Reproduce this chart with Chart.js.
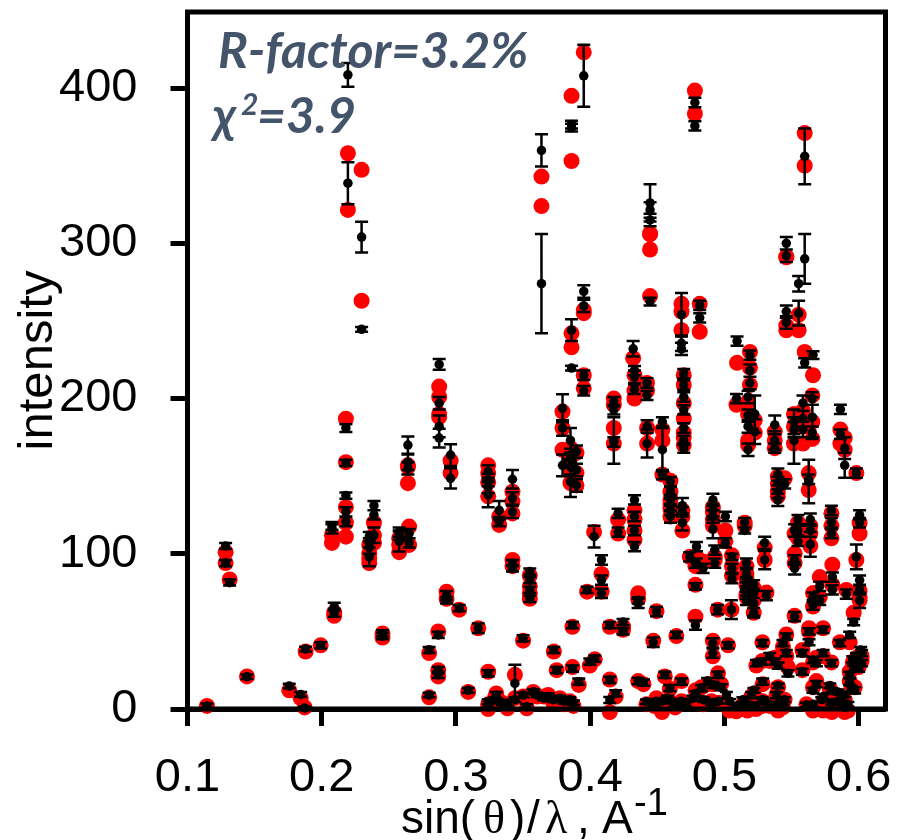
<!DOCTYPE html>
<html>
<head>
<meta charset="utf-8">
<title>R-factor plot</title>
<script src="https://cdn.jsdelivr.net/npm/chart.js@4/dist/chart.umd.min.js"></script>
<style>
html, body { margin: 0; padding: 0; background: #fff; }
canvas { display: block; }
</style>
</head>
<body>
<canvas id="fitChart" width="899" height="840"></canvas>
<script>
// Reflections, same order in all four arrays
const sinThetaOverLambda = [
  .1145,.1284,.1284,.1314,.1443,.1758,.1843,.1873,.188,.1992,
  .2093,.2093,.2076,.2076,.218,.218,.218,.218,.218,
  .2195,.2195,.2297,.2297,.2354,.2354,.2354,.2354,.2389,.2389,.2389,
  .2577,.2577,.2577,.2651,.2651,.2642,.2642,.2642,.2875,.2875,.2875,.2875,
  .296,.296,.324,.324,.324,.324,.3322,.3322,.3421,.3421,.3421,.3421,.3421,
  .355,.355,.355,.355,.2453,.2453,.28,.28,.2868,.2868,.2868,.293,.293,.3024,.3166,.3091,
  .324,.324,.324,.33,.3384,.3439,.35,.3528,.3575,.35,.329,.3345,.344,
  .3637,.3637,.3861,.3861,.3861,.3861,.3952,.3952,.3952,.3952,.3952,
  .4446,.4446,.4446,.4446,.478,.478,.5598,.5598,.5553,.5553,.5461,.5461,.5461,.5461,
  .468,.468,.468,.4816,.4816,.5094,.519,.432,.566,.5598,
  .5655,.5655,.5655,.5585,.5585,.5585,.5518,.5518,.5518,.5864,.5896,.5896,.5864,.5983,.5375,.5375,.5375,
  .519,.519,.509,.5176,.5176,.5176,.5176,.5226,.5226,.5628,.5628,.5398,.5398,.5398,.5398,.5449,
  .3794,.3794,.3794,.3853,.3853,.3853,.3853,.3898,.3898,.3898,.4176,.4176,.4176,.4176,.4424,.4424,.4538,.4538,.4538,
  .4697,.4697,.4697,.4697,.4697,.4697,.4697,.4598,.4598,.4598,.4598,.4687,.4687,
  .433,.433,.433,.433,.4208,.4208,.4029,.4084,.4084,.4084,.3977,
  .3868,.3729,.375,.3868,.3915,.3997,.4034,.358,.3687,.3774,.3848,.4146,.419,.4146,.4146,.4245,.4245,
  .4494,.4357,.4357,.447,.4642,.4784,.4784,.4784,.4556,.4357,.4397,.468,
  .4419,.4494,.4593,.4605,.468,.4766,.4829,.4903,.4915,.4952,.4914,.4914,.5027,
  .5015,.509,.5138,.5201,.5285,.5285,.5388,.5436,
  .4914,.4914,.4914,.4914,.5007,.5007,.5151,.5151,
  .4742,.4792,.4792,.4841,.4928,.4928,.5056,.5056,.5056,.5164,.5164,.5164,.5164,.5218,.5218,.5313,.53,.53,
  .5523,.5523,.5523,.5548,.5548,.5548,.564,.564,.564,.5797,.5797,.5797,.6007,.6007,.5983,
  .6007,.6007,.6007,.5804,.5804,.571,.571,.566,.566,.5908,.5523,
  .5283,.5283,.5375,.5461,.5461,.54,.5473,.5581,.563,.5581,.5735,.5685,.5797,.586,.5933,.5963,.6022,.6022,.5963,.5933,.5956,
  .5611,.5685,.5735,.5844,.5896,.5797,.5971,
  .433,.433,.433,.4423,.4423,
  .5164,.5164,.5218,.5218,.4598,.4687,.4598,
  .5039,.5088,.5138,.5171,.522,.5236,.5285,.5336,.54,.54,.5448,
  .566,.566,.5725,.5785,.58,.5844,.5896,.5896,.592,
  .5933,.597,.5985,.6015,.6,.5945,
  .4477,.4535,.4575,.4633,.4715,.4785,.4845,.4875,.4975,.4955,
  .3605,.3655,.3725,.3805,.3875,
  .5238,.5337,.5436,.566,.5735,.563,.495,.5052
];
const observed = [
  2,105,94,81.5,20.8,14.8,9.4,.6,38.6,41,
  66,62,118,116,181,158.5,137.5,127,120.7,
  408.5,338.7,304,244.6,111,107,104,98,131,125,112,
  114,108,112,113,107,170,159,155,222,197,182,174.5,
  163.6,148.6,153,147.5,143,138,128,120.7,148,135.7,127,94,90.6,
  88.5,83,76.7,71,48.7,47,38,9,47.7,25,22,70,73,65,52,12,
  23,4.7,1.5,9,3.8,16.5,9,1.5,11,45.5,6,4,6,
  359.8,274,376.5,374.5,244,219.6,407.9,269,259.7,215,205,
  326,321.5,315,262.5,390.7,375.6,356,290,274,255,300,292,256,249,
  254,235.6,232,260,252,237,228,232,228,223,
  188,200,178,197,187,180,185,180,173,193,168,157,177,152,183,173,168,
  218,210,200,201,189,182,167,190,178.7,146.5,148,151,145.6,140,134.7,145,
  193.7,181,157,173,163.6,156,146.5,165.8,154,144,198,192.7,173,172,182,171,185,167,151,
  216,208.7,201,192.7,181,173,168,146.5,140,131.4,124,131,120,
  134.7,124,115,104.6,126,114,111,96,83,74.5,76.7,
  54,38,25,26,17.6,30.5,32.5,11,8,7,6,18.7,10,5.8,54,56,50,
  62.7,68,70,43,47.7,54,79,94,22,18,17,17.6,
  4.7,5,13.4,5,5,7,13.4,4,15.5,22,42.5,36,41,
  9,2,3,9,17.6,5,9,4,
  134.7,128,124,116,124,107,120,115,
  98,104.6,94,90.6,102.4,94,98,90.6,84,94,87,78.6,70,74.5,68,73,107,96,
  115,96,90.6,122,115,108,122,115,106,128,120,113,125,120,98,
  83,76.7,70,85,76.7,79,70,72,67,74,59.5,
  42.5,30.5,30.5,46.6,36,28,23,24,43,36,51,29.5,29.5,42.5,47.7,56,36,29.5,26,17.6,32,
  2.6,16,8,11,3,12,12,
  218,214,206,210,202,
  82,74,80,62,135,127,128,
  5,1.5,6,3,12,2,6,3,15,3,6,
  12,3,6,15,4,5,9,1,3,
  22,30,34,38,26,13,
  3,5,7,3,3,10,6,18,14,5,
  9,7,6,5,4,
  29.5,34,42.5,31.5,36,50,64,64
];
const obsError = [
  1.5,2,2,2,1.5,1.5,1.5,1,1.5,2,
  2.5,2.5,2.5,3,2.5,2,2,3,3,
  7.6,13.5,9.9,1.5,3,3,4,6,3,3,5,
  3,6.5,3,3,3,5.5,5,4,3.5,4,7,6,
  7,6.5,4,4,4,8,6,3,6,4,4,2,2,
  2,2,2,2,2,2,2,1.5,2,2,2,2,3,2,3,1.5,
  2,1.5,1.5,2,1.5,12,1.5,1.5,1.5,2,1.5,1.5,1.5,
  10.4,32,2.5,2.5,7,1.5,20,4,4,3,3,
  12,5,4,2.5,3,3,18,16,5,8,4,4,4,4,
  14,5,4,3,3,3,3,5,2.5,3,
  13,4,4,5,5,5,8,5,15,3,7,8,3,3,6,6,3,
  4,4,3,4,4,4,4,12,8,14,3,4,4,4,4,3,
  9,5,7,8,4,5,10,4,4,4,3,3,15,3,4,9,3,14,3,
  3,3,3,3,3,3,3,3,3,4,4,5,5,
  3,3,3,3,3,3,7,3,3,3,2,
  2,2,2,2,2,2,2,1.5,2,1.5,1.5,2,2,2,2,2,2,
  3,3,2,3,2,3,2,3,2,2,2,2,
  1.5,1.5,2,1.5,1.5,1.5,2,1.5,2,2,3,3,2,
  2,1.5,1.5,2,2,1.5,2,1.5,
  4,4,4,6,3,3,3,2,
  3,3,3,3,3,3,2,3,3,3,3,3,3,3,8,3,4,6,
  4,3,4,3,3,3,4,4,8,3,3,3,3,3,8,
  3,3,5,3,3,3,3,3,3,3,3,
  2,2,2,2,2,2,2,2,2,2,2,2,2,2,2,2,2,2,2,2,2,
  1.5,2,1.5,1.5,1.5,1.5,2,
  3,4,3,3,3,
  3,3,3,3,3,3,3,
  1.5,1.5,1.5,1.5,1.5,1.5,1.5,1.5,1.5,1.5,1.5,
  1.5,1.5,1.5,1.5,1.5,1.5,1.5,1.5,1.5,
  2,2,2,2,2,2,
  1.5,1.5,1.5,1.5,1.5,1.5,1.5,2,2,1.5,
  1.5,1.5,1.5,1.5,1.5,
  2,2,2,2,2,2,3,6
];
const calculated = [
  2,101,94,83.5,21,12,7,1,37,41,
  62,60,112,107,187,159,130,120,111,
  358,321.5,347.3,263,105.7,100,97,94,120,112,107,
  110,105.7,101,117.5,105.7,157,156,145.5,207.7,201,188,190,
  160,152,157,152,146,137,124,118.6,140,133.6,126,96,92,
  86,79,74.5,71,48.7,46,36,7.5,50,25,21,75.6,71,64,52,11,
  24,3,0,10,.5,22,8,.5,11,44,7,4,7,
  343,324,395,353,242,233,423,255,257,215,206.6,
  306,296,306,266,398.4,383.4,371,350,254,244,291.4,291,247,244,
  261,244,256,261,243,223,230,226,215,230,
  202,185,174,192,182,171,190,182,171,180,174.6,167,171,152,178.7,168,173,
  220,208.7,196,198,173,190,170,186,178,152,141,149.7,145,137,140,148.6,
  191.6,181,167,168,162,154,145.6,165,152,144,200,196,181,171,181,171,180,173,151,
  215,208.7,197,187,178,175,170,147,140,132,124,124,115,
  128,122,115,109,122,113,114,87,75.6,76,75.6,
  53,37,25,27,15.5,28,32,10,9,7,5,19,8,-2,53,53,51,
  63,74.5,71,44,47,59.5,80,92,21,18,16,18,
  3,7,13,4,5,5,14,5,16,23,44,34,41,
  2,-1,1,8,16,2,9,1,
  130,127,122,118,115,108,120,118,
  98,98,94,95,98,96,99,92,86,92,87,84,72,74.5,70,75,104,96,
  113,100,94,120,113,110,118,113,105,126,118,110,120,113,96,
  76,72,70,93,80,85,72,74.7,66,76.7,60,
  43,31,33,48,34,32,27,25,50,38,52,33,30,43,43,62,34,31,27,18,30,
  3,18,-1,8,-1,10,14,
  215,205,200,210,205,
  80,74,78,62,135,128,129,
  -1,-1.5,3,-1,10,0,5,2,14,-1,6,
  14,-1,3,13,-2,1,6,-2,-1,
  24,28,33,35,27,15,
  2,-2,5,1,4,12,3,16,16,4,
  8,8,4,3,2,
  28,31,40,30,34,52,64,64
];
const xTickValues = [0.1, 0.2, 0.3, 0.4, 0.5, 0.6];
const yTickValues = [0, 100, 200, 300, 400];

if (observed.length !== sinThetaOverLambda.length || obsError.length !== observed.length || calculated.length !== observed.length) {
  throw new Error('lengths: ' + [sinThetaOverLambda.length, observed.length, obsError.length, calculated.length]);
}

const labelFont = '"Liberation Sans", Arial, sans-serif';

// error bars + closed frame go on top of the points
const errorBars = {
  id: 'errorBars',
  afterDatasetsDraw(chart) {
    const { ctx, scales: { x, y }, chartArea } = chart;
    ctx.save();
    ctx.strokeStyle = '#000';
    ctx.lineWidth = 2.5;
    ctx.beginPath();
    sinThetaOverLambda.forEach((s, i) => {
      const px = x.getPixelForValue(s);
      const top = y.getPixelForValue(observed[i] + obsError[i]);
      const bottom = y.getPixelForValue(observed[i] - obsError[i]);
      ctx.moveTo(px, top); ctx.lineTo(px, bottom);
      ctx.moveTo(px - 6.5, top); ctx.lineTo(px + 6.5, top);
      ctx.moveTo(px - 6.5, bottom); ctx.lineTo(px + 6.5, bottom);
    });
    ctx.stroke();
    ctx.lineWidth = 5;
    ctx.strokeRect(chartArea.left, chartArea.top, chartArea.width, chartArea.height);
    ctx.restore();
  }
};

// the x title mixes fonts and has a superscript, the annotation sits inside the plot
const extraText = {
  id: 'extraText',
  afterDraw(chart) {
    const { ctx } = chart;
    const serif = '"Liberation Serif", serif';
    const note = 'italic bold 50px Lato, sans-serif';
    ctx.save();
    ctx.textBaseline = 'alphabetic';
    ctx.textAlign = 'left';

    ctx.fillStyle = '#44546A';
    [
      ['R-factor=3.2%', note, 218, 68],
      ['χ', note, 213, 133],
      ['2', 'italic bold 30px Lato, sans-serif', 241, 115],
      ['=3.9', note, 257, 133]
    ].forEach(([text, font, tx, ty]) => {
      ctx.font = font;
      ctx.fillText(text, tx, ty);
    });

    ctx.fillStyle = '#000';
    [
      ['sin(', '46px ' + labelFont, 401, 833],
      ['θ', '46px ' + serif, 483, 833],
      [')', '46px ' + labelFont, 510, 833],
      ['/', '46px ' + labelFont, 527, 833],
      ['λ', '46px ' + serif, 545, 833],
      [',', '46px ' + labelFont, 577, 833],
      ['A', '46px ' + labelFont, 602, 833],
      ['-1', '38px ' + labelFont, 634, 815]
    ].forEach(([text, font, tx, ty]) => {
      ctx.font = font;
      ctx.fillText(text, tx, ty);
    });
    ctx.restore();
  }
};

const points = (ys) => sinThetaOverLambda.map((s, i) => ({ x: s, y: ys[i] }));

// no automatic room for the outermost tick labels, the plot box is fixed
const noScalePadding = (scale) => {
  scale.paddingLeft = scale.paddingRight = scale.paddingTop = scale.paddingBottom = 0;
};

new Chart(document.getElementById('fitChart').getContext('2d'), {
  type: 'scatter',
  data: {
    datasets: [
      {
        label: 'observed',
        data: points(observed),
        order: 1,
        clip: false,
        pointRadius: 4.75,
        backgroundColor: '#000',
        borderColor: '#000',
        borderWidth: 0
      },
      {
        label: 'calculated',
        data: points(calculated),
        order: 2,
        clip: false,
        pointRadius: 8,
        backgroundColor: '#ff0000',
        borderColor: '#ff0000',
        borderWidth: 0
      }
    ]
  },
  options: {
    responsive: false,
    animation: false,
    events: [],
    layout: {
      autoPadding: false,
      padding: { top: 12, right: 13.5, left: 0, bottom: 0 }
    },
    plugins: {
      legend: { display: false },
      tooltip: { enabled: false },
      title: { display: false }
    },
    scales: {
      x: {
        type: 'linear',
        min: 0.1,
        max: 0.62,
        afterFit(scale) { scale.height = 131; noScalePadding(scale); },
        afterBuildTicks(scale) { scale.ticks = xTickValues.map((value) => ({ value })); },
        grid: { drawOnChartArea: false, tickLength: 17, tickWidth: 5, tickColor: '#000' },
        border: { color: '#000', width: 5 },
        ticks: {
          color: '#000',
          padding: 24,
          maxRotation: 0,
          autoSkip: false,
          font: { family: labelFont, size: 47 },
          callback: (v) => v.toFixed(1)
        }
      },
      y: {
        type: 'linear',
        min: 0,
        max: 449,
        afterFit(scale) { scale.width = 187.5; noScalePadding(scale); },
        afterBuildTicks(scale) { scale.ticks = yTickValues.map((value) => ({ value })); },
        grid: { drawOnChartArea: false, tickLength: 17, tickWidth: 5, tickColor: '#000' },
        border: { color: '#000', width: 5 },
        ticks: {
          color: '#000',
          padding: 33,
          autoSkip: false,
          font: { family: labelFont, size: 47 }
        },
        title: {
          display: true,
          text: 'intensity',
          color: '#000',
          padding: { top: 14, bottom: 0 },
          font: { family: labelFont, size: 49, lineHeight: 1 }
        }
      }
    }
  },
  plugins: [errorBars, extraText]
});
</script>
</body>
</html>
